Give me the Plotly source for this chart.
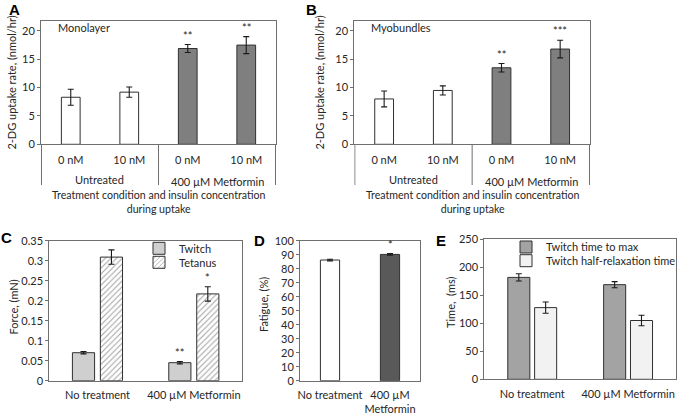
import plotly.graph_objects as go

W, H = 677, 415
FONT = "Lato"
TXT = "#262626"
AX = "#6f6f6f"
EDGE = "#303030"

# ---------------- data ----------------
# Panels A/B : 2-DG uptake
ab_groups = ["Untreated", "400 µM Metformin"]
ab_keys = ["Untreated 0 nM", "Untreated 10 nM", "Metformin 0 nM", "Metformin 10 nM"]
ab_insulin = ["0 nM", "10 nM", "0 nM", "10 nM"]
ab_colors = ["white", "white", "#7f7f7f", "#7f7f7f"]
mono_vals = [8.3, 9.2, 16.9, 17.5]
mono_err = [1.4, 0.9, 0.7, 1.5]
mono_stars = ["", "", "**", "**"]
myo_vals = [8.0, 9.5, 13.5, 16.8]
myo_err = [1.4, 0.8, 0.75, 1.55]
myo_stars = ["", "", "**", "***"]

# Panel C : force
c_cats = ["No treatment", "400 µM Metformin"]
twitch = [0.070, 0.045]
twitch_err = [0.003, 0.003]
twitch_stars = ["", "**"]
tetanus = [0.309, 0.217]
tetanus_err = [0.018, 0.018]
tetanus_stars = ["", "*"]

# Panel D : fatigue
d_cats = ["No treatment", "400 µM<br>Metformin"]
fatigue = [86.2, 90.2]
fatigue_err = [0.6, 0.6]
fatigue_stars = ["", "*"]
d_colors = ["white", "#595959"]

# Panel E : twitch kinetics
e_cats = ["No treatment", "400 µM Metformin"]
time_to_max = [182, 169]
time_to_max_err = [6.5, 5.5]
half_relax = [128, 105]
half_relax_err = [10, 9.5]


def px_x(x):
    return x / W


def px_y(y):
    return (H - y) / H


# panel geometry (pixels)
dom = {
    "A": ([41, 276], [21, 144.3]),
    "B": ([354.3, 590], [21, 144.3]),
    "C": ([49.3, 242], [240.7, 380.7]),
    "D": ([300, 420], [240.7, 380.7]),
    "E": ([484.3, 676], [239.3, 379.3]),
}

fig = go.Figure()
ann = []
shapes = []


def font(size=11, color=TXT, family=FONT):
    return dict(size=size, color=color, family=family)


def eb(arr):
    return dict(type="data", array=arr, visible=True, color="#1a1a1a", thickness=1.1, width=3)


def paper_text(text, x, y, size=11, angle=0, color=TXT, family=FONT):
    ann.append(dict(x=px_x(x), y=px_y(y), xref="paper", yref="paper", text=text, textangle=angle,
                    xanchor="center", yanchor="middle", showarrow=False, font=font(size, color, family)))


axes = {"A": ("x", "y"), "B": ("x2", "y2"), "C": ("x3", "y3"), "D": ("x4", "y4"), "E": ("x5", "y5")}

# A & B
for panel, vals, errs, stars in [("A", mono_vals, mono_err, mono_stars), ("B", myo_vals, myo_err, myo_stars)]:
    xa, ya = axes[panel]
    fig.add_trace(go.Bar(x=ab_keys, y=vals, error_y=eb(errs), width=0.32,
                         marker=dict(color=ab_colors, line=dict(color=EDGE, width=1)),
                         xaxis=xa, yaxis=ya, showlegend=False))
    for k, v, e, s in zip(ab_keys, vals, errs, stars):
        if s:
            ann.append(dict(x=k, y=v + e, xref=xa, yref=ya, text=s, showarrow=False,
                            xanchor="center", yanchor="bottom", yshift=1, font=font()))

# C
fig.add_trace(go.Bar(x=c_cats, y=twitch, error_y=eb(twitch_err), width=0.23, offset=-0.26,
                     name="Twitch", marker=dict(color="#cfcfcf", line=dict(color=EDGE, width=1)),
                     xaxis="x3", yaxis="y3", legend="legend"))
fig.add_trace(go.Bar(x=c_cats, y=tetanus, error_y=eb(tetanus_err), width=0.23, offset=0.03,
                     name="Tetanus",
                     marker=dict(color="white", line=dict(color=EDGE, width=1),
                                 pattern=dict(shape="/", fgcolor="#444444", bgcolor="white", size=4, solidity=0.25)),
                     xaxis="x3", yaxis="y3", legend="legend2"))
cw = (dom["C"][0][1] - dom["C"][0][0]) / len(c_cats)
for vals, errs, stars, off in [(twitch, twitch_err, twitch_stars, -0.26), (tetanus, tetanus_err, tetanus_stars, 0.03)]:
    for k, v, e, s in zip(c_cats, vals, errs, stars):
        if s:
            ann.append(dict(x=k, y=v + e, xref="x3", yref="y3", text=s, showarrow=False,
                            xshift=(off + 0.115) * cw, xanchor="center", yanchor="bottom", yshift=1,
                            font=font()))

# D
fig.add_trace(go.Bar(x=d_cats, y=fatigue, error_y=eb(fatigue_err), width=0.32,
                     marker=dict(color=d_colors, line=dict(color=EDGE, width=1)),
                     xaxis="x4", yaxis="y4", showlegend=False))
for k, v, e, s in zip(d_cats, fatigue, fatigue_err, fatigue_stars):
    if s:
        ann.append(dict(x=k, y=v + e, xref="x4", yref="y4", text=s, showarrow=False,
                        xanchor="center", yanchor="bottom", yshift=1, font=font()))

# E
fig.add_trace(go.Bar(x=e_cats, y=time_to_max, error_y=eb(time_to_max_err), width=0.23, offset=-0.255,
                     name="Twitch time to max", marker=dict(color="#a3a3a3", line=dict(color=EDGE, width=1)),
                     xaxis="x5", yaxis="y5", legend="legend3"))
fig.add_trace(go.Bar(x=e_cats, y=half_relax, error_y=eb(half_relax_err), width=0.23, offset=0.025,
                     name="Twitch half-relaxation time", marker=dict(color="#f2f2f2", line=dict(color=EDGE, width=1)),
                     xaxis="x5", yaxis="y5", legend="legend4"))

tickfont = font()
layout = dict(width=W, height=H, margin=dict(l=0, r=0, t=0, b=0, autoexpand=False), paper_bgcolor="white",
              plot_bgcolor="white", barmode="overlay", font=font())

yranges = {"A": [0, 21.75], "B": [0, 21.75], "C": [0, 0.35], "D": [0, 100], "E": [0, 250]}
ydticks = {"A": 5, "B": 5, "C": 0.05, "D": 10, "E": 50}
for p, (xa, ya) in axes.items():
    (x0, x1), (y0, y1) = dom[p]
    xkey = "xaxis" + xa[1:]
    ykey = "yaxis" + ya[1:]
    layout[xkey] = dict(domain=[px_x(x0), px_x(x1)], anchor=ya, showline=True, mirror=True,
                        linecolor=AX, linewidth=1, ticks="", tickfont=tickfont, showgrid=False,
                        zeroline=False, fixedrange=True, ticklabelstandoff=4, tickangle=0, automargin=False)
    layout[ykey] = dict(domain=[px_y(y1), px_y(y0)], anchor=xa, range=yranges[p], dtick=ydticks[p],
                        showline=True, mirror=True, linecolor=AX, linewidth=1, ticks="outside",
                        ticklen=3, tickcolor=AX, tickfont=tickfont, showgrid=False, zeroline=False,
                        automargin=False, fixedrange=True)
layout["xaxis"]["tickvals"] = ab_keys
layout["xaxis"]["ticktext"] = ab_insulin
layout["xaxis2"]["tickvals"] = ab_keys
layout["xaxis2"]["ticktext"] = ab_insulin
layout["xaxis"]["ticklabelstandoff"] = 5
layout["xaxis2"]["ticklabelstandoff"] = 5

# dividers and group labels for A/B
for p in ["A", "B"]:
    xa, ya = axes[p]
    (x0, x1), (y0, y1) = dom[p]
    for xv in [-0.5, 1.5, 3.5]:
        shapes.append(dict(type="line", xref=xa, yref="paper", x0=xv, x1=xv,
                           y0=px_y(185), y1=px_y(y1), line=dict(color=AX, width=1)))
    mid = x0 + (x1 - x0) / 2
    paper_text(ab_groups[0], (x0 + mid) / 2, 179)
    paper_text(ab_groups[1], (mid + x1) / 2, 181)
    paper_text("Treatment condition and insulin concentration<br>during uptake", (x0 + x1) / 2, 201.5, size=10.6)

# y titles
for txt, x, y in [("2-DG uptake rate, (nmol/hr)", 12, 82.6), ("2-DG uptake rate, (nmol/hr)", 320, 82.6),
                  ("Force, (mN)", 12.5, 307), ("Fatigue, (%)", 263, 305), ("Time,\u00a0 (ms)", 450, 302)]:
    paper_text(txt, x, y, angle=-90)

# in-panel labels
paper_text("Monolayer", 83.5, 28)
paper_text("Myobundles", 401, 28)

# panel letters
for t, x, y in [("A", 14, 10), ("B", 311, 10), ("C", 6, 238), ("D", 259, 240), ("E", 441, 240)]:
    paper_text("<b>%s</b>" % t, x, y, size=15, color="black", family="Liberation Sans")

for key, x, y in [("legend", 139, 248.3), ("legend2", 139, 262.3), ("legend3", 506, 247), ("legend4", 506, 260.7)]:
    layout[key] = dict(x=px_x(x), y=px_y(y), xanchor="left", yanchor="middle", bgcolor="rgba(0,0,0,0)",
                       font=font(), itemwidth=30, borderwidth=0)

layout["annotations"] = ann
layout["shapes"] = shapes
fig.update_layout(**layout)
fig.write_html("out.html", config={"displayModeBar": False, "staticPlot": False},
               post_script="document.body.style.margin='0';document.body.style.overflow='hidden';")
